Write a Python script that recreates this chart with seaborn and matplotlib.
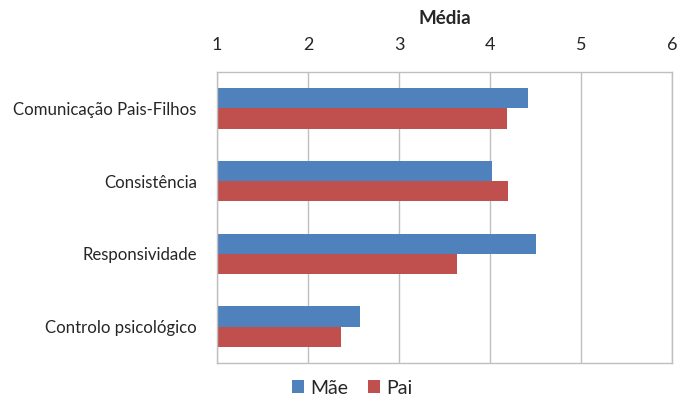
import matplotlib
matplotlib.use("Agg")
import matplotlib.pyplot as plt
import seaborn as sns
import pandas as pd
from matplotlib.patches import Patch

categories = ["Comunicação Pais-Filhos", "Consistência", "Responsividade", "Controlo psicológico"]
mae = [4.42, 4.02, 4.51, 2.57]
pai = [4.19, 4.20, 3.64, 2.36]
series = ["Mãe", "Pai"]
colors = ["#4F81BD", "#C0504D"]
xticks = [1, 2, 3, 4, 5, 6]

df = pd.DataFrame({
    "cat": categories * 2,
    "val": mae + pai,
    "who": [series[0]] * len(categories) + [series[1]] * len(categories),
})

sns.set_style("white")
plt.rcParams["font.family"] = ["Lato", "DejaVu Sans"]

fig = plt.figure(figsize=(6.8, 4.03), dpi=100)
ax = fig.add_axes([217/680, 1-363/403, (672-217)/680, (363-72)/403])

sns.barplot(data=df, y="cat", x="val", hue="who", orient="h",
            palette=colors, width=0.56, ax=ax, legend=False,
            saturation=1, linewidth=0)

ax.set_xlim(1, 6)
ax.set_xticks(xticks)
ax.set_xticklabels([str(t) for t in xticks], fontsize=13)
ax.xaxis.tick_top()
ax.xaxis.set_label_position("top")
ax.tick_params(axis="x", length=0, pad=14)
ax.tick_params(axis="y", length=0, pad=14.5, labelsize=12.1)
ax.set_xlabel("")
ax.set_ylabel("")
ax.grid(axis="x", color="#BFBFBF", linewidth=1)
ax.set_axisbelow(True)
for s in ax.spines.values():
    s.set_color("#BFBFBF")
    s.set_linewidth(1)

fig.text(445/680, 1-18/403, "Média", ha="center", va="center",
         fontsize=13.5, fontweight="bold")

handles = [Patch(facecolor=c, edgecolor="none") for c in colors]
fig.legend(handles, series, loc="center", bbox_to_anchor=(352/680, 1-388/403),
           ncol=2, frameon=False, fontsize=14, handlelength=0.65,
           handleheight=0.65, handletextpad=0.3, columnspacing=1.0)

fig.savefig("out.png", dpi=100)
